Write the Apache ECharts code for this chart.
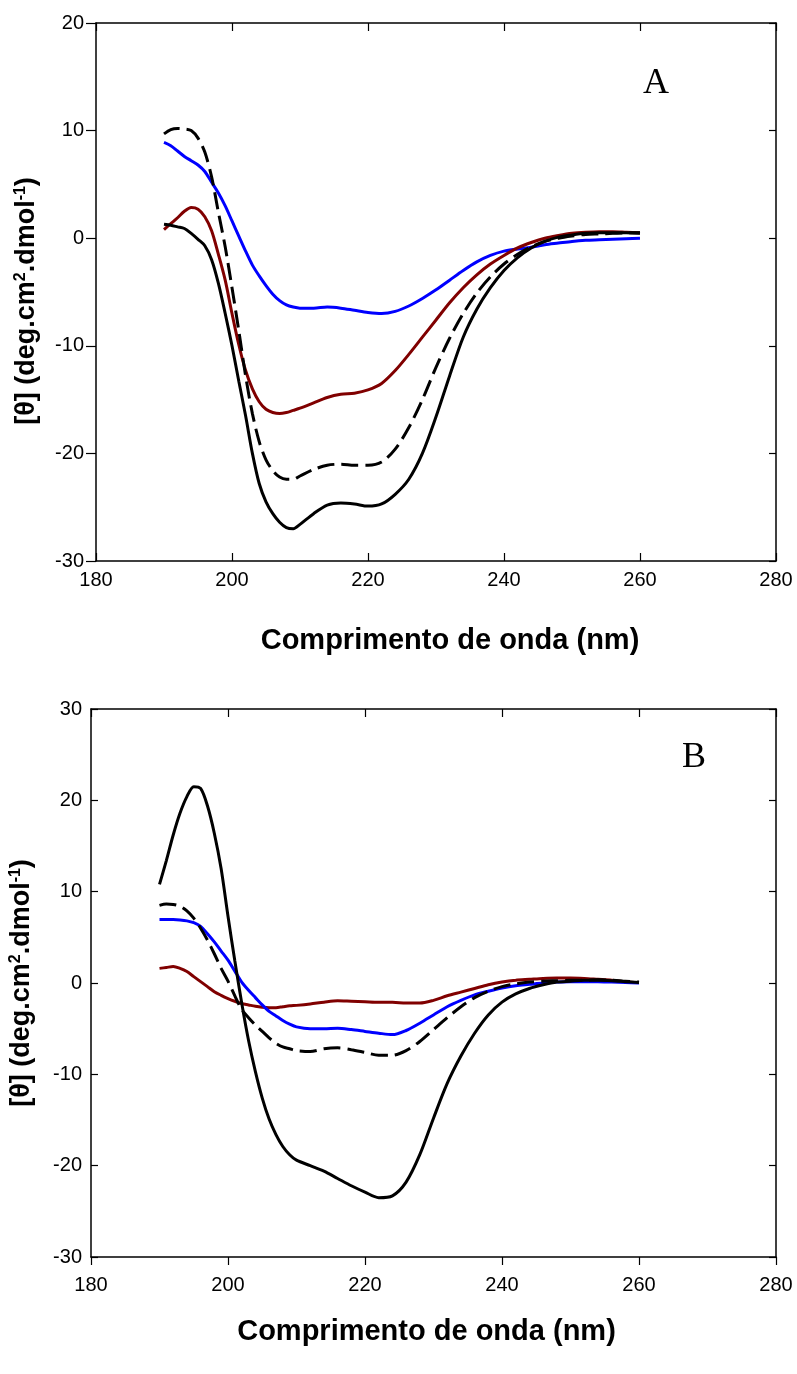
<!DOCTYPE html>
<html>
<head>
<meta charset="utf-8">
<script src="https://cdn.jsdelivr.net/npm/echarts@6/dist/echarts.min.js"></script>
<style>
  html, body { margin: 0; padding: 0; background: #fff; }
  #chart { width: 797px; height: 1374px; }
</style>
</head>
<body>
<div id="chart"></div>
<script>
// wavelength grid (nm), shared by every curve
const wavelengths = [
  190, 191, 192, 193, 194, 195, 196, 197, 198, 199, 200,
  201, 202, 203, 204, 205, 206, 207, 208, 209, 210,
  212, 214, 216, 218, 220, 222, 224, 226, 228, 230,
  232, 234, 236, 238, 240, 242, 244, 246, 248, 250,
  252, 254, 256, 258, 260,
];

const xTicks = [180, 200, 220, 240, 260, 280];

// panel A
const aSolid = [
  1.3, 1.2, 1.05, 0.9, 0.45, -0.1, -0.7, -2.0, -4.2, -7.0, -10.0,
  -13.3, -16.5, -20.0, -22.8, -24.5, -25.6, -26.4, -26.9, -27.0, -26.6,
  -25.6, -24.8, -24.6, -24.7, -24.9, -24.7, -23.8, -22.4, -20.0, -16.6,
  -12.8, -9.2, -6.6, -4.6, -3.0, -1.8, -0.9, -0.3, 0.1, 0.3,
  0.45, 0.5, 0.5, 0.5, 0.45,
];
const aDashed = [
  9.7, 10.1, 10.2, 10.15, 10.0, 9.3, 8.0, 5.7, 2.4, -0.8, -4.6,
  -8.6, -12.8, -16.3, -18.9, -20.6, -21.6, -22.2, -22.4, -22.4, -22.1,
  -21.5, -21.1, -21.0, -21.1, -21.1, -20.8, -19.6, -17.6, -15.0, -12.0,
  -9.3, -7.0, -5.1, -3.6, -2.4, -1.5, -0.8, -0.3, 0.0, 0.2,
  0.35, 0.4, 0.45, 0.5, 0.5,
];
const aMaroon = [
  0.8, 1.35, 1.9, 2.5, 2.85, 2.7, 2.0, 0.7, -1.5, -3.9, -7.0,
  -9.9, -12.3, -14.0, -15.2, -15.9, -16.2, -16.3, -16.2, -16.0, -15.8,
  -15.3, -14.8, -14.5, -14.4, -14.1, -13.5, -12.3, -10.8, -9.2, -7.6,
  -6.0, -4.6, -3.4, -2.4, -1.6, -0.9, -0.4, 0.0, 0.25, 0.45,
  0.55, 0.6, 0.6, 0.55, 0.5,
];
const aBlue = [
  8.9, 8.6, 8.1, 7.6, 7.2, 6.8, 6.2, 5.2, 4.2, 3.0, 1.6,
  0.2, -1.2, -2.5, -3.5, -4.4, -5.2, -5.8, -6.2, -6.4, -6.5,
  -6.5, -6.4, -6.5, -6.7, -6.9, -7.0, -6.8, -6.3, -5.6, -4.8,
  -3.9, -3.0, -2.2, -1.6, -1.2, -1.0, -0.85, -0.6, -0.45, -0.3,
  -0.2, -0.15, -0.1, -0.05, 0.0,
];

// panel B
const bSolid = [
  10.8, 13.4, 16.2, 18.6, 20.4, 21.5, 21.3, 19.4, 16.4, 12.5, 7.3,
  2.4, -2.2, -6.3, -9.7, -12.6, -14.9, -16.6, -17.9, -18.8, -19.4,
  -20.0, -20.6, -21.4, -22.2, -22.9, -23.5, -23.3, -21.8, -18.8, -14.8,
  -11.0, -8.0, -5.5, -3.5, -2.1, -1.2, -0.6, -0.2, 0.1, 0.2,
  0.3, 0.3, 0.25, 0.15, 0.05,
];
const bDashed = [
  8.5, 8.65, 8.6, 8.4, 7.9, 7.1, 6.0, 4.7, 3.2, 1.6, 0.2,
  -1.4, -2.9, -3.8, -4.6, -5.3, -6.0, -6.6, -7.0, -7.2, -7.4,
  -7.5, -7.2, -7.1, -7.3, -7.6, -7.9, -7.9, -7.4, -6.4, -5.1,
  -3.8, -2.6, -1.6, -0.9, -0.4, -0.1, 0.1, 0.2, 0.25, 0.3,
  0.3, 0.35, 0.3, 0.2, 0.1,
];
const bBlue = [
  6.95, 6.95, 6.95, 6.9, 6.8, 6.6, 6.2, 5.4, 4.5, 3.5, 2.5,
  1.3, 0.1, -0.8, -1.6, -2.4, -3.1, -3.6, -4.1, -4.5, -4.8,
  -5.0, -5.0, -4.95, -5.1, -5.3, -5.5, -5.65, -5.2, -4.4, -3.5,
  -2.6, -1.9, -1.3, -0.9, -0.55, -0.3, -0.15, 0.0, 0.1, 0.15,
  0.15, 0.15, 0.1, 0.05, 0.0,
];
const bMaroon = [
  1.6, 1.7, 1.8, 1.6, 1.25, 0.7, 0.15, -0.4, -0.95, -1.35, -1.7,
  -2.0, -2.25, -2.4, -2.55, -2.65, -2.7, -2.7, -2.6, -2.5, -2.45,
  -2.3, -2.1, -1.95, -2.0, -2.05, -2.1, -2.1, -2.2, -2.2, -1.9,
  -1.4, -1.0, -0.6, -0.2, 0.1, 0.3, 0.4, 0.5, 0.55, 0.55,
  0.5, 0.4, 0.3, 0.15, 0.05,
];

const SANS = '"Liberation Sans", Arial, sans-serif';
const SERIF = '"Liberation Serif", "DejaVu Serif", serif';

const BLUE = "#0000ff";
const MAROON = "#800000";
const BLACK = "#000000";

function pairs(values) {
  return wavelengths.map((x, i) => [x, values[i]]);
}

function curve(values, color, grid, dashed) {
  return {
    type: "line",
    xAxisIndex: grid * 2,
    yAxisIndex: grid * 2,
    data: pairs(values),
    smooth: 0.3,
    showSymbol: false,
    silent: true,
    lineStyle: {
      color: color,
      width: 3,
      type: dashed ? [17, 7] : "solid",
    },
  };
}

const axisLine = { show: true, onZero: false, lineStyle: { color: BLACK, width: 1.5 } };

// padding on the name nudges it sideways along the axis
function xAxis(grid, bottom, tickInside, labelMargin, nameGap, namePad) {
  return {
    type: "value",
    gridIndex: grid,
    position: bottom ? "bottom" : "top",
    min: xTicks[0],
    max: xTicks[xTicks.length - 1],
    interval: 20,
    axisLine: axisLine,
    axisTick: { show: true, inside: tickInside, length: 8, lineStyle: { color: BLACK, width: 1.2 } },
    axisLabel: {
      show: bottom,
      margin: labelMargin,
      color: BLACK,
      fontSize: 20,
      fontFamily: SANS,
    },
    splitLine: { show: false },
    name: bottom ? "Comprimento de onda (nm)" : "",
    nameLocation: "middle",
    nameGap: nameGap,
    nameTextStyle: {
      color: BLACK,
      fontSize: 29,
      fontWeight: "bold",
      fontFamily: SANS,
      padding: namePad || 0,
    },
  };
}

const yName = "[θ] (deg.cm{sup|2}.dmol{sup|-1})";

function yAxis(grid, left, min, max, tickInside, tickLen, labelMargin, namePad) {
  return {
    type: "value",
    gridIndex: grid,
    position: left ? "left" : "right",
    min: min,
    max: max,
    interval: 10,
    axisLine: axisLine,
    axisTick: { show: true, inside: tickInside, length: tickLen, lineStyle: { color: BLACK, width: 1.2 } },
    axisLabel: {
      show: left,
      margin: labelMargin,
      color: BLACK,
      fontSize: 20,
      fontFamily: SANS,
    },
    splitLine: { show: false },
    name: left ? yName : "",
    nameLocation: "middle",
    nameRotate: 90,
    nameGap: 56,
    nameTextStyle: {
      color: BLACK,
      fontSize: 27,
      fontWeight: "bold",
      fontFamily: SANS,
      padding: namePad || 0,
      rich: {
        sup: {
          fontSize: 16,
          fontWeight: "bold",
          fontFamily: SANS,
          verticalAlign: "top",
          color: BLACK,
        },
      },
    },
  };
}

const chartDom = document.getElementById("chart");
const myChart = echarts.init(chartDom, null, { renderer: "canvas" });

const option = {
  backgroundColor: "#fff",
  animation: false,
  grid: [
    { left: 96, top: 23, width: 680, height: 538 },
    { left: 91, top: 709, width: 685, height: 548 },
  ],
  xAxis: [
    xAxis(0, true, true, 9, 65, [0, 0, 0, 28]),
    xAxis(0, false, true, 8, 60),
    xAxis(1, true, false, 18, 60, [0, 14, 0, 0]),
    xAxis(1, false, true, 8, 60),
  ],
  yAxis: [
    yAxis(0, true, -30, 20, false, 10, 12, [0, 18, 0, 0]),
    yAxis(0, false, -30, 20, true, 7, 8),
    yAxis(1, true, -30, 30, true, 7, 9),
    yAxis(1, false, -30, 30, true, 7, 8),
  ],
  graphic: [
    {
      type: "text",
      left: 643,
      top: 66,
      style: { text: "A", fontSize: 36, fontFamily: SERIF, fill: BLACK },
    },
    {
      type: "text",
      left: 682,
      top: 740,
      style: { text: "B", fontSize: 36, fontFamily: SERIF, fill: BLACK },
    },
  ],
  series: [
    curve(aBlue, BLUE, 0, false),
    curve(aMaroon, MAROON, 0, false),
    curve(aDashed, BLACK, 0, true),
    curve(aSolid, BLACK, 0, false),
    curve(bMaroon, MAROON, 1, false),
    curve(bBlue, BLUE, 1, false),
    curve(bDashed, BLACK, 1, true),
    curve(bSolid, BLACK, 1, false),
  ],
};

myChart.setOption(option);
</script>
</body>
</html>
